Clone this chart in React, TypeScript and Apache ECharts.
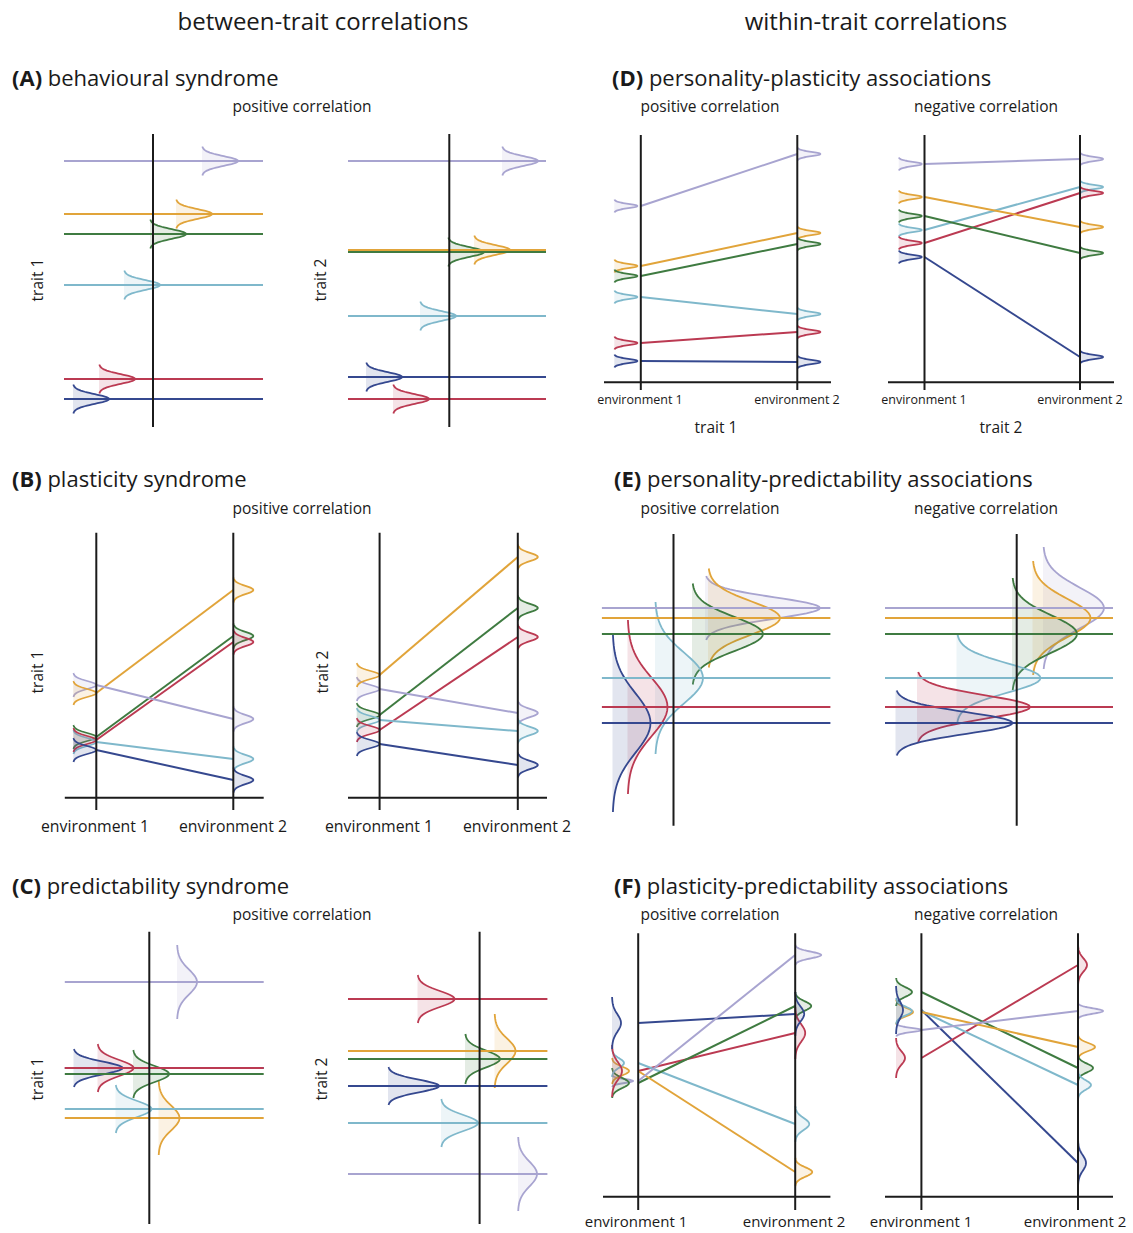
import React, { useEffect, useRef } from "react";
import * as echarts from "echarts";

// ---------- individuals (drawing order) ----------
const INDIVIDUALS = ["purple", "orange", "green", "cyan", "red", "blue"];
const LINE_COLORS = ["#a8a4d0", "#e1a43a", "#3f7b41", "#7fb8cb", "#bb3a52", "#35488f"];
const FILL_ALPHA = 0.14;

// ---------- (A) behavioural syndrome : trait means, density position/size ----------
const A1_MEAN = [269, 216, 196, 145, 51, 31];
const A1_DENS_X = [142, 116, 90, 64, 39, 13];
const A2_MEAN = [269, 180, 178, 114, 31, 53];
const A2_DENS_X = [157, 129, 103, 75, 48, 21];
const A_DENS_AMP = [36, 36, 36, 36, 36, 36];
const A_DENS_HALF = [14.5, 14.5, 14.5, 14.5, 14.5, 14.5];

// ---------- (B) plasticity syndrome : env1 / env2 means ----------
const B1_ENV1 = [130, 122, 78, 73, 75, 65];
const B1_ENV2 = [96, 225, 179, 56, 173, 35];
const B2_ENV1 = [126, 140, 100, 95, 85, 71];
const B2_ENV2 = [102, 258, 207, 84, 178, 50];
const B_AMP1 = [23, 23, 23, 23, 23, 23];
const B_HALF1 = [12, 12, 12, 12, 12, 12];
const B_AMP2 = [20, 20, 20, 20, 20, 20];
const B_HALF2 = [12.5, 12.5, 12.5, 12.5, 12.5, 12.5];

// ---------- (C) predictability syndrome ----------
const C1_MEAN = [248, 112, 156, 121, 162, 162];
const C1_DENS_X = [117, 98.5, 73, 55.5, 37.5, 13.5];
const C1_DENS_AMP = [20, 21, 36, 36, 36, 49];
const C1_DENS_HALF = [37, 37, 24, 24, 24, 19];
const C2_MEAN = [56, 179, 171, 107, 231, 144];
const C2_DENS_X = [173, 149.5, 120, 96, 72.5, 43];
const C2_DENS_AMP = [19, 21, 35, 37, 37, 51];
const C2_DENS_HALF = [37, 37, 25, 24, 24, 19];

// ---------- (D) personality-plasticity associations ----------
const D1_ENV1 = [189, 129, 119, 98, 52, 34];
const D1_ENV2 = [241, 162, 151, 81, 63, 33];
const D2_ENV1 = [231, 198, 179, 165, 152, 138];
const D2_ENV2 = [236, 168, 142, 208, 202, 38];
const D_AMP1 = [23, 23, 23, 23, 23, 23];
const D_HALF1 = [6.5, 6.5, 6.5, 6.5, 6.5, 6.5];
const D_AMP2 = [23, 23, 23, 23, 23, 23];
const D_HALF2 = [6.5, 6.5, 6.5, 6.5, 6.5, 6.5];

// ---------- (E) personality-predictability associations ----------
const E_MEAN = [222, 212, 196, 152, 123, 107];
const E1_DENS_X = [110, 113, 97, 60, 32.5, 17.5];
const E1_DENS_AMP = [115, 72, 71, 48, 40, 38];
const E1_DENS_HALF = [32, 49.5, 50.5, 76, 87, 89];
const E2_DENS_X = [163, 152.5, 132, 76.5, 37, 15.5];
const E2_DENS_AMP = [61, 58, 65, 84, 113, 117];
const E2_DENS_HALF = [61, 57, 56, 44, 35, 32.5];

// ---------- (F) plasticity-predictability associations ----------
const F1_ENV1 = [134, 144, 132, 152, 144, 192];
const F1_ENV2 = [260, 43, 209, 91, 182, 201];
const F1_AMP1 = [21, 17, 17, 12, 10, 9];
const F1_HALF1 = [6, 13, 15, 14, 26, 26];
const F1_AMP2 = [26, 17, 16, 14, 10, 9];
const F1_HALF2 = [10, 14, 14, 18, 26, 22];
const F2_ENV1 = [185, 203, 223, 204, 157, 205];
const F2_ENV2 = [204, 168, 147, 130, 250, 52];
const F2_AMP1 = [25, 17, 16, 16, 9, 7];
const F2_HALF1 = [6.5, 12.5, 14, 13, 20, 24];
const F2_AMP2 = [25, 17, 15, 13, 9, 8];
const F2_HALF2 = [8, 12, 13, 14, 20, 23];

// ---------- layout of the panels (page px) ----------
type StaticPanel = {
  kind: "static";
  rect: [number, number, number, number];
  vx: number;
  vy: [number, number];
  hx: [number, number];
  mean: number[];
  densX: number[];
  amp: number[];
  half: number[];
};
type EnvPanel = {
  kind: "env";
  rect: [number, number, number, number];
  env: [number, number];
  axisX: [number, number];
  axisY: number;
  vy: [number, number];
  y1: number[];
  y2: number[];
  d1Base: number;
  amp1: number[];
  half1: number[];
  amp2: number[];
  half2: number[];
};
type Panel = StaticPanel | EnvPanel;

const PANELS: Panel[] = [
  { kind: "static", rect: [60, 130, 210, 300], vx: 93, vy: [3, 296], hx: [4, 203], mean: A1_MEAN, densX: A1_DENS_X, amp: A_DENS_AMP, half: A_DENS_HALF },
  { kind: "static", rect: [345, 130, 210, 300], vx: 104.3, vy: [3, 296], hx: [3, 201], mean: A2_MEAN, densX: A2_DENS_X, amp: A_DENS_AMP, half: A_DENS_HALF },
  { kind: "env", rect: [60, 525, 210, 290], env: [36.3, 173.3], axisX: [4.8, 203.7], axisY: 17.3, vy: [5, 282.3], y1: B1_ENV1, y2: B1_ENV2, d1Base: 13.3, amp1: B_AMP1, half1: B_HALF1, amp2: B_AMP2, half2: B_HALF2 },
  { kind: "env", rect: [345, 525, 210, 290], env: [34.6, 172.8], axisX: [3, 202], axisY: 17.3, vy: [5, 282.3], y1: B2_ENV1, y2: B2_ENV2, d1Base: 11.7, amp1: B_AMP1, half1: B_HALF1, amp2: B_AMP2, half2: B_HALF2 },
  { kind: "static", rect: [60, 925, 210, 305], vx: 89.3, vy: [6, 298.3], hx: [4.8, 203.7], mean: C1_MEAN, densX: C1_DENS_X, amp: C1_DENS_AMP, half: C1_DENS_HALF },
  { kind: "static", rect: [345, 925, 210, 305], vx: 134.6, vy: [6, 298.3], hx: [3, 202.4], mean: C2_MEAN, densX: C2_DENS_X, amp: C2_DENS_AMP, half: C2_DENS_HALF },
  { kind: "env", rect: [600, 130, 235, 265], env: [40.8, 197.3], axisX: [4, 231], axisY: 12.7, vy: [5, 260], y1: D1_ENV1, y2: D1_ENV2, d1Base: 14.3, amp1: D_AMP1, half1: D_HALF1, amp2: D_AMP2, half2: D_HALF2 },
  { kind: "env", rect: [884, 130, 235, 265], env: [40.5, 196], axisX: [4, 230], axisY: 12.7, vy: [5, 260], y1: D2_ENV1, y2: D2_ENV2, d1Base: 14.7, amp1: D_AMP1, half1: D_HALF1, amp2: D_AMP2, half2: D_HALF2 },
  { kind: "static", rect: [595, 530, 240, 300], vx: 78.5, vy: [4.3, 296], hx: [6.9, 235.4], mean: E_MEAN, densX: E1_DENS_X, amp: E1_DENS_AMP, half: E1_DENS_HALF },
  { kind: "static", rect: [880, 530, 240, 300], vx: 136.7, vy: [4.3, 296], hx: [5, 233], mean: E_MEAN, densX: E2_DENS_X, amp: E2_DENS_AMP, half: E2_DENS_HALF },
  { kind: "env", rect: [600, 925, 235, 290], env: [38.2, 195.2], axisX: [3, 230.4], axisY: 18.3, vy: [5, 281.7], y1: F1_ENV1, y2: F1_ENV2, d1Base: 12, amp1: F1_AMP1, half1: F1_HALF1, amp2: F1_AMP2, half2: F1_HALF2 },
  { kind: "env", rect: [880, 925, 235, 290], env: [41.4, 198], axisX: [5, 233], axisY: 18.3, vy: [5, 281.7], y1: F2_ENV1, y2: F2_ENV2, d1Base: 16, amp1: F2_AMP1, half1: F2_HALF1, amp2: F2_AMP2, half2: F2_HALF2 },
];

// ---------- texts ----------
const FONT = "'Open Sans', 'Noto Sans', sans-serif";
const HEADERS: [string, number, number][] = [
  ["between-trait correlations", 323, 20],
  ["within-trait correlations", 876, 20],
];
const TITLES: [string, string, number, number][] = [
  ["(A)", " behavioural syndrome", 12, 77],
  ["(B)", " plasticity syndrome", 12, 478],
  ["(C)", " predictability syndrome", 12, 885],
  ["(D)", " personality-plasticity associations", 612, 77],
  ["(E)", " personality-predictability associations", 614, 478],
  ["(F)", " plasticity-predictability associations", 614, 885],
];
const SUBTITLES: [string, number, number][] = [
  ["positive correlation", 302, 106],
  ["positive correlation", 302, 508],
  ["positive correlation", 302, 914],
  ["positive correlation", 710, 106],
  ["negative correlation", 986, 106],
  ["positive correlation", 710, 508],
  ["negative correlation", 986, 508],
  ["positive correlation", 710, 914],
  ["negative correlation", 986, 914],
];
const TRAIT_Y_LABELS: [string, number, number][] = [
  ["trait 1", 37, 280],
  ["trait 2", 320, 280],
  ["trait 1", 37, 672],
  ["trait 2", 322, 672],
  ["trait 1", 37, 1079],
  ["trait 2", 321, 1079],
];
const ENV_LABELS_B: [string, number, number][] = [
  ["environment 1", 95, 826],
  ["environment 2", 233, 826],
  ["environment 1", 379, 826],
  ["environment 2", 517, 826],
];
const ENV_LABELS_F: [string, number, number][] = [
  ["environment 1", 636, 1221],
  ["environment 2", 794, 1221],
  ["environment 1", 921, 1221],
  ["environment 2", 1075, 1221],
];
const ENV_LABELS_D: [string, number, number][] = [
  ["environment 1", 640, 399],
  ["environment 2", 797, 399],
  ["environment 1", 924, 399],
  ["environment 2", 1080, 399],
];
const TRAIT_X_LABELS: [string, number, number][] = [
  ["trait 1", 716, 427],
  ["trait 2", 1001, 427],
];

function hexToRgba(hex: string, a: number) {
  const r = parseInt(hex.slice(1, 3), 16);
  const g = parseInt(hex.slice(3, 5), 16);
  const b = parseInt(hex.slice(5, 7), 16);
  return `rgba(${r},${g},${b},${a})`;
}
const FILL_COLORS = LINE_COLORS.map((c) => hexToRgba(c, FILL_ALPHA));

function densityRender(params: any, api: any) {
  const mean = api.value(0);
  const base = api.value(1);
  const amp = api.value(2);
  const half = api.value(3);
  const ci = api.value(4);
  const sd = half / 3;
  const n = 48;
  const pts: number[][] = [];
  for (let k = 0; k <= n; k++) {
    const t = -half + (2 * half * k) / n;
    const x = base + amp * Math.exp(-(t * t) / (2 * sd * sd));
    pts.push(api.coord([x, mean + t]));
  }
  const poly = [api.coord([base, mean - half]), ...pts, api.coord([base, mean + half])];
  return {
    type: "group",
    children: [
      { type: "polygon", shape: { points: poly }, style: { fill: FILL_COLORS[ci], stroke: null } },
      { type: "polyline", shape: { points: pts }, style: { fill: null, stroke: LINE_COLORS[ci], lineWidth: 1.8 } },
    ],
  };
}

function segRender(colored: boolean) {
  return (params: any, api: any) => {
    const p1 = api.coord([api.value(0), api.value(1)]);
    const p2 = api.coord([api.value(2), api.value(3)]);
    return {
      type: "line",
      shape: { x1: p1[0], y1: p1[1], x2: p2[0], y2: p2[1] },
      style: {
        stroke: colored ? LINE_COLORS[api.value(4)] : "#1b1b1b",
        lineWidth: 2,
      },
    };
  };
}

function buildOption() {
  const grid: any[] = [];
  const xAxis: any[] = [];
  const yAxis: any[] = [];
  const series: any[] = [];
  PANELS.forEach((p, i) => {
    const [l, t, w, h] = p.rect;
    grid.push({ left: l, top: t, width: w, height: h, show: false });
    xAxis.push({ type: "value", gridIndex: i, min: 0, max: w, show: false });
    yAxis.push({ type: "value", gridIndex: i, min: 0, max: h, show: false });
    const dens: number[][] = [];
    const lines: number[][] = [];
    const black: number[][] = [];
    INDIVIDUALS.forEach((_, ci) => {
      if (p.kind === "static") {
        dens.push([p.mean[ci], p.densX[ci], p.amp[ci], p.half[ci], ci]);
        lines.push([p.hx[0], p.mean[ci], p.hx[1], p.mean[ci], ci]);
      } else {
        dens.push([p.y1[ci], p.d1Base, p.amp1[ci], p.half1[ci], ci]);
        dens.push([p.y2[ci], p.env[1], p.amp2[ci], p.half2[ci], ci]);
        lines.push([p.env[0], p.y1[ci], p.env[1], p.y2[ci], ci]);
      }
    });
    lines.reverse();
    if (p.kind === "static") {
      black.push([p.vx, p.vy[0], p.vx, p.vy[1]]);
    } else {
      black.push([p.env[0], p.vy[0], p.env[0], p.vy[1]]);
      black.push([p.env[1], p.vy[0], p.env[1], p.vy[1]]);
      black.push([p.axisX[0], p.axisY, p.axisX[1], p.axisY]);
    }
    const common = { type: "custom", coordinateSystem: "cartesian2d", xAxisIndex: i, yAxisIndex: i, clip: false, silent: true };
    series.push({ ...common, z: 2, renderItem: densityRender, data: dens });
    series.push({ ...common, z: 3, renderItem: segRender(true), data: lines });
    series.push({ ...common, z: 4, renderItem: segRender(false), data: black });
  });

  const txt = (text: string, x: number, y: number, size: number, align = "center", extra: any = {}) => ({
    type: "text",
    x,
    y,
    silent: true,
    ...extra,
    style: {
      text,
      fontSize: size,
      fontFamily: FONT,
      fill: "#1a1a1a",
      align,
      textAlign: align,
      verticalAlign: "middle",
      textVerticalAlign: "middle",
    },
  });

  const graphic: any[] = [];
  HEADERS.forEach(([s, x, y]) => graphic.push(txt(s, x, y, 24)));
  TITLES.forEach(([b, s, x, y]) =>
    graphic.push({
      type: "text",
      x,
      y,
      silent: true,
      style: {
        text: `{b|${b}}{n|${s}}`,
        rich: {
          b: { fontWeight: "bold", fontSize: 22, fontFamily: FONT, fill: "#1a1a1a" },
          n: { fontSize: 22, fontFamily: FONT, fill: "#1a1a1a" },
        },
        fontSize: 22,
        fontFamily: FONT,
        align: "left",
        textAlign: "left",
        verticalAlign: "middle",
        textVerticalAlign: "middle",
      },
    })
  );
  SUBTITLES.forEach(([s, x, y]) => graphic.push(txt(s, x, y, 15.5)));
  TRAIT_Y_LABELS.forEach(([s, x, y]) => graphic.push(txt(s, x, y, 15.5, "center", { rotation: Math.PI / 2 })));
  ENV_LABELS_B.forEach(([s, x, y]) => graphic.push(txt(s, x, y, 15.8)));
  ENV_LABELS_F.forEach(([s, x, y]) => graphic.push(txt(s, x, y, 15)));
  ENV_LABELS_D.forEach(([s, x, y]) => graphic.push(txt(s, x, y, 12.5)));
  TRAIT_X_LABELS.forEach(([s, x, y]) => graphic.push(txt(s, x, y, 15.5)));

  return {
    animation: false,
    backgroundColor: "#ffffff",
    grid,
    xAxis,
    yAxis,
    series,
    graphic,
  };
}

export default function App() {
  const ref = useRef<HTMLDivElement>(null);
  useEffect(() => {
    if (!ref.current) return;
    const chart = echarts.init(ref.current, undefined, { renderer: "svg" });
    chart.setOption(buildOption() as any);
    return () => chart.dispose();
  }, []);
  return (
    <div
      ref={ref}
      style={{ position: "absolute", left: 0, top: 0, width: 1133, height: 1233, background: "#fff" }}
    />
  );
}
